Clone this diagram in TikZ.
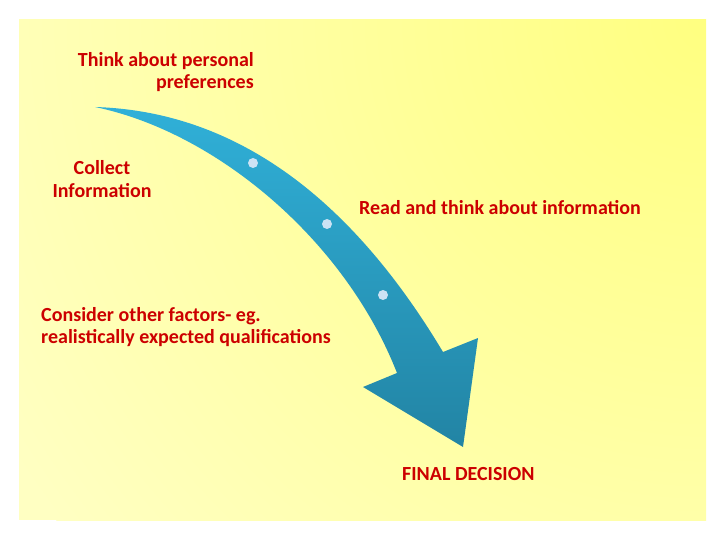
\documentclass[tikz,border=0pt]{standalone}
\usepackage{fontspec}
\setmainfont{Carlito}
\usetikzlibrary{calc}

\definecolor{decred}{RGB}{204,0,0}
\definecolor{bgpale}{RGB}{255,255,194}
\definecolor{bgbright}{RGB}{255,255,128}
\definecolor{arrowtop}{RGB}{48,176,216}
\definecolor{arrowbot}{RGB}{34,132,164}
\definecolor{dotblue}{RGB}{204,226,244}

\begin{document}
\begin{tikzpicture}[x=1pt,y=-1pt]

    \tikzstyle{redtext}+=[
        font=\fontsize{20}{22.5}\selectfont\bfseries,
        text=decred,
        inner sep=0pt
    ]
    \tikzstyle{dot}+=[
        circle,
        fill=dotblue,
        minimum size=10pt,
        inner sep=0pt
    ]

    % ----------------------------------------------------------------------------
    \useasboundingbox (0,0) rectangle (720,540);
    \fill[white] (0,0) rectangle (720,540);
    \coordinate(bgnw) at (19,20);
    \coordinate(bgse) at (706,520);
    \begin{scope}
        \clip (bgnw) rectangle (bgse);
        \fill[bgpale] (bgnw) rectangle (bgse);
        \shade[inner color=bgbright, outer color=bgpale] (706,20) circle (820pt);
    \end{scope}

    % ----------------------------------------------------------------------------
    \coordinate(tail) at (95,107);
    \coordinate(neckr) at (443,352);
    \coordinate(wingr) at (478,338);
    \coordinate(tip) at (463,447);
    \coordinate(wingl) at (363,387);
    \coordinate(neckl) at (397,373);
    \shade[top color=arrowtop, bottom color=arrowbot]
        (tail) .. controls (260,112) and (370,230) .. (neckr) -- (wingr) -- (tip)
        -- (wingl) -- (neckl) .. controls (345,240) and (216,132) .. (tail) -- cycle;

    % ----------------------------------------------------------------------------
    \node[dot] (dota) at (253,163) {};
    \node[dot] (dotb) at (327,224) {};
    \node[dot] (dotc) at (383,295) {};

    % ----------------------------------------------------------------------------
    \node[redtext, anchor=east, align=right] (prefs) at (254,72) {Think about personal\\preferences};
    \node[redtext, align=center] (collect) at (102,179) {Collect\\Information};
    \node[redtext, anchor=west] (read) at (359,208) {Read and think about information};
    \node[redtext, anchor=west, align=left] (factors) at (41,327) {Consider other factors- eg.\\realistically expected qualifications};
    \node[redtext, anchor=west] (final) at (402,474) {FINAL DECISION};

\end{tikzpicture}
\end{document}
